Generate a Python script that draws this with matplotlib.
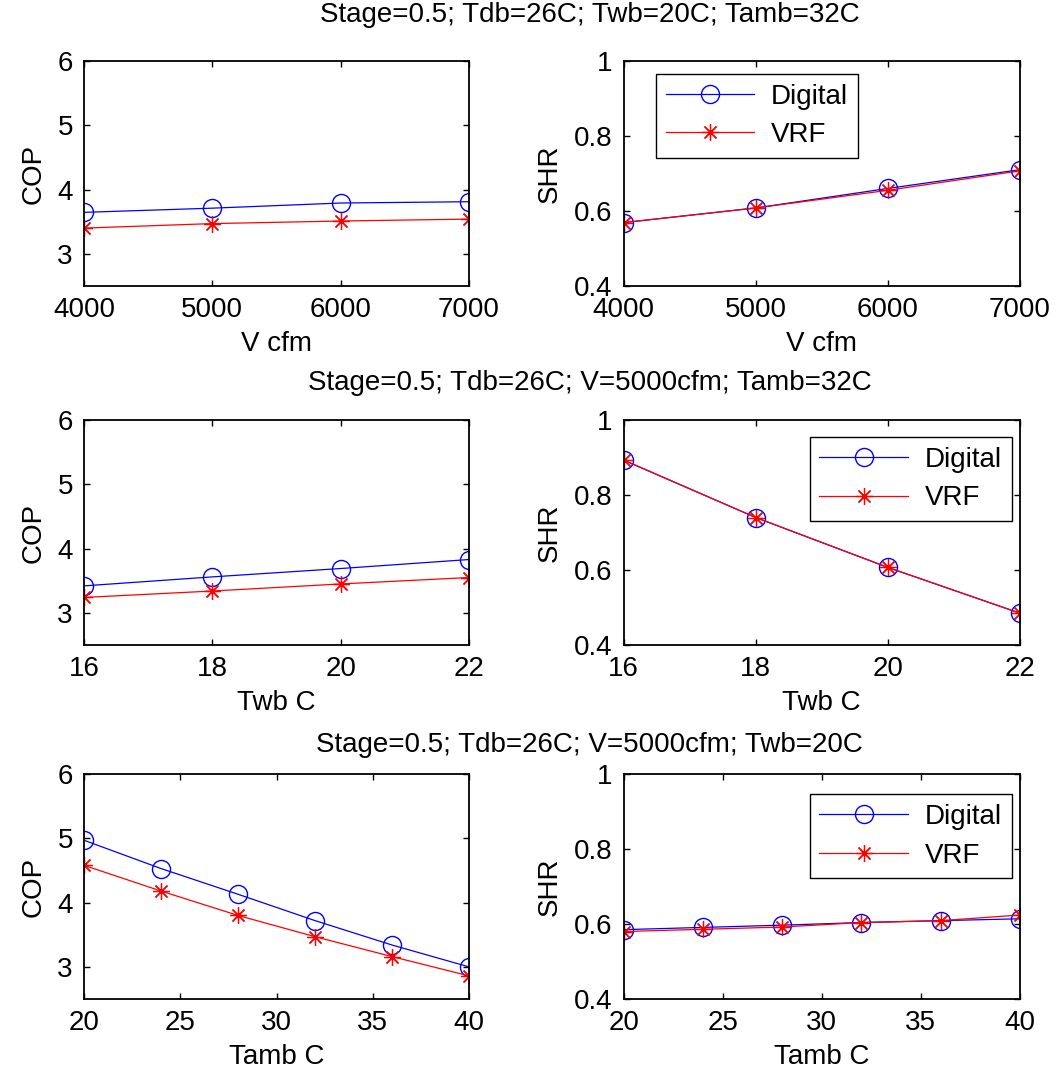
import matplotlib
matplotlib.use('Agg')
import matplotlib.pyplot as plt
from matplotlib.ticker import FormatStrFormatter

plt.rcParams['font.family'] = ['Liberation Sans', 'DejaVu Sans']
plt.rcParams['font.size'] = 20

# row 1: air flow sweep
v_cfm = [4000, 5000, 6000, 7000]
cop_v_digital = [3.645, 3.71, 3.79, 3.81]
cop_v_vrf = [3.40, 3.47, 3.51, 3.54]
shr_v_digital = [0.569, 0.608, 0.660, 0.710]
shr_v_vrf = [0.569, 0.608, 0.655, 0.707]

# row 2: wet bulb sweep
twb = [16, 18, 20, 22]
cop_twb_digital = [3.42, 3.56, 3.69, 3.83]
cop_twb_vrf = [3.24, 3.34, 3.45, 3.55]
shr_twb_digital = [0.893, 0.740, 0.607, 0.485]
shr_twb_vrf = [0.893, 0.740, 0.607, 0.485]

# row 3: ambient temperature sweep
tamb = [20, 24, 28, 32, 36, 40]
cop_tamb_digital = [4.97, 4.53, 4.13, 3.72, 3.34, 3.0]
cop_tamb_vrf = [4.58, 4.18, 3.80, 3.47, 3.16, 2.86]
shr_tamb_digital = [0.585, 0.591, 0.597, 0.604, 0.609, 0.614]
shr_tamb_vrf = [0.580, 0.586, 0.592, 0.604, 0.609, 0.624]

row_titles = ['Stage=0.5; Tdb=26C; Twb=20C; Tamb=32C',
              'Stage=0.5; Tdb=26C; V=5000cfm; Tamb=32C',
              'Stage=0.5; Tdb=26C; V=5000cfm; Twb=20C']
x_labels = ['V cfm', 'Twb C', 'Tamb C']
x_ticks = [[4000, 5000, 6000, 7000], [16, 18, 20, 22], [20, 25, 30, 35, 40]]

rows = [
    (v_cfm, cop_v_digital, cop_v_vrf, shr_v_digital, shr_v_vrf),
    (twb, cop_twb_digital, cop_twb_vrf, shr_twb_digital, shr_twb_vrf),
    (tamb, cop_tamb_digital, cop_tamb_vrf, shr_tamb_digital, shr_tamb_vrf),
]

fig = plt.figure(figsize=(10.59, 10.77), dpi=100)

bottoms = [0.7345, 0.4011, 0.0724]
height = 0.2089
title_y = [0.986, 0.644, 0.308]
legend_anchor = [('upper left', (0.081, 0.943)),
                 ('upper right', (0.98, 0.924)),
                 ('upper right', (0.98, 0.91))]

asterisk = (8, 2, 0)


def style_axes(ax):
    ax.tick_params(direction='in', top=True, right=True, length=4, width=1,
                   pad=8, labelsize=20)
    for s in ax.spines.values():
        s.set_linewidth(1.3)


for i, (x, cd, cv, sd, sv) in enumerate(rows):
    ax1 = fig.add_axes([0.0793, bottoms[i], 0.3636, height])
    ax1.plot(x, cd, color='blue', lw=0.9, marker='o', ms=13, mfc='none', mew=1)
    ax1.plot(x, cv, color='red', lw=0.9, marker=asterisk, ms=12, mew=0.9)
    ax1.set_xlim(x[0], x[-1])
    ax1.set_ylim(2.5, 6)
    ax1.set_yticks([3, 4, 5, 6])
    ax1.set_xticks(x_ticks[i])
    ax1.set_xlabel(x_labels[i], labelpad=6)
    ax1.set_ylabel('COP', labelpad=8)
    style_axes(ax1)

    ax2 = fig.add_axes([0.589, bottoms[i], 0.374, height])
    ax2.plot(x, sd, color='blue', lw=0.9, marker='o', ms=13, mfc='none', mew=1,
             label='Digital')
    ax2.plot(x, sv, color='red', lw=0.9, marker=asterisk, ms=12, mew=0.9,
             label='VRF')
    ax2.set_xlim(x[0], x[-1])
    ax2.set_ylim(0.4, 1)
    ax2.set_yticks([0.4, 0.6, 0.8, 1.0])
    ax2.yaxis.set_major_formatter(FormatStrFormatter('%g'))
    ax2.set_xticks(x_ticks[i])
    ax2.set_xlabel(x_labels[i], labelpad=6)
    ax2.set_ylabel('SHR', labelpad=8)
    style_axes(ax2)
    loc, anchor = legend_anchor[i]
    leg = ax2.legend(loc=loc, bbox_to_anchor=anchor, fancybox=False,
                     edgecolor='black', framealpha=1, handlelength=3.2,
                     borderpad=0.35, labelspacing=0.45, borderaxespad=0,
                     handletextpad=0.6, fontsize=20)
    leg.get_frame().set_linewidth(1.0)

    fig.text(0.557, title_y[i], row_titles[i], ha='center', va='center',
             fontsize=20)

fig.savefig('out.png', dpi=100)
